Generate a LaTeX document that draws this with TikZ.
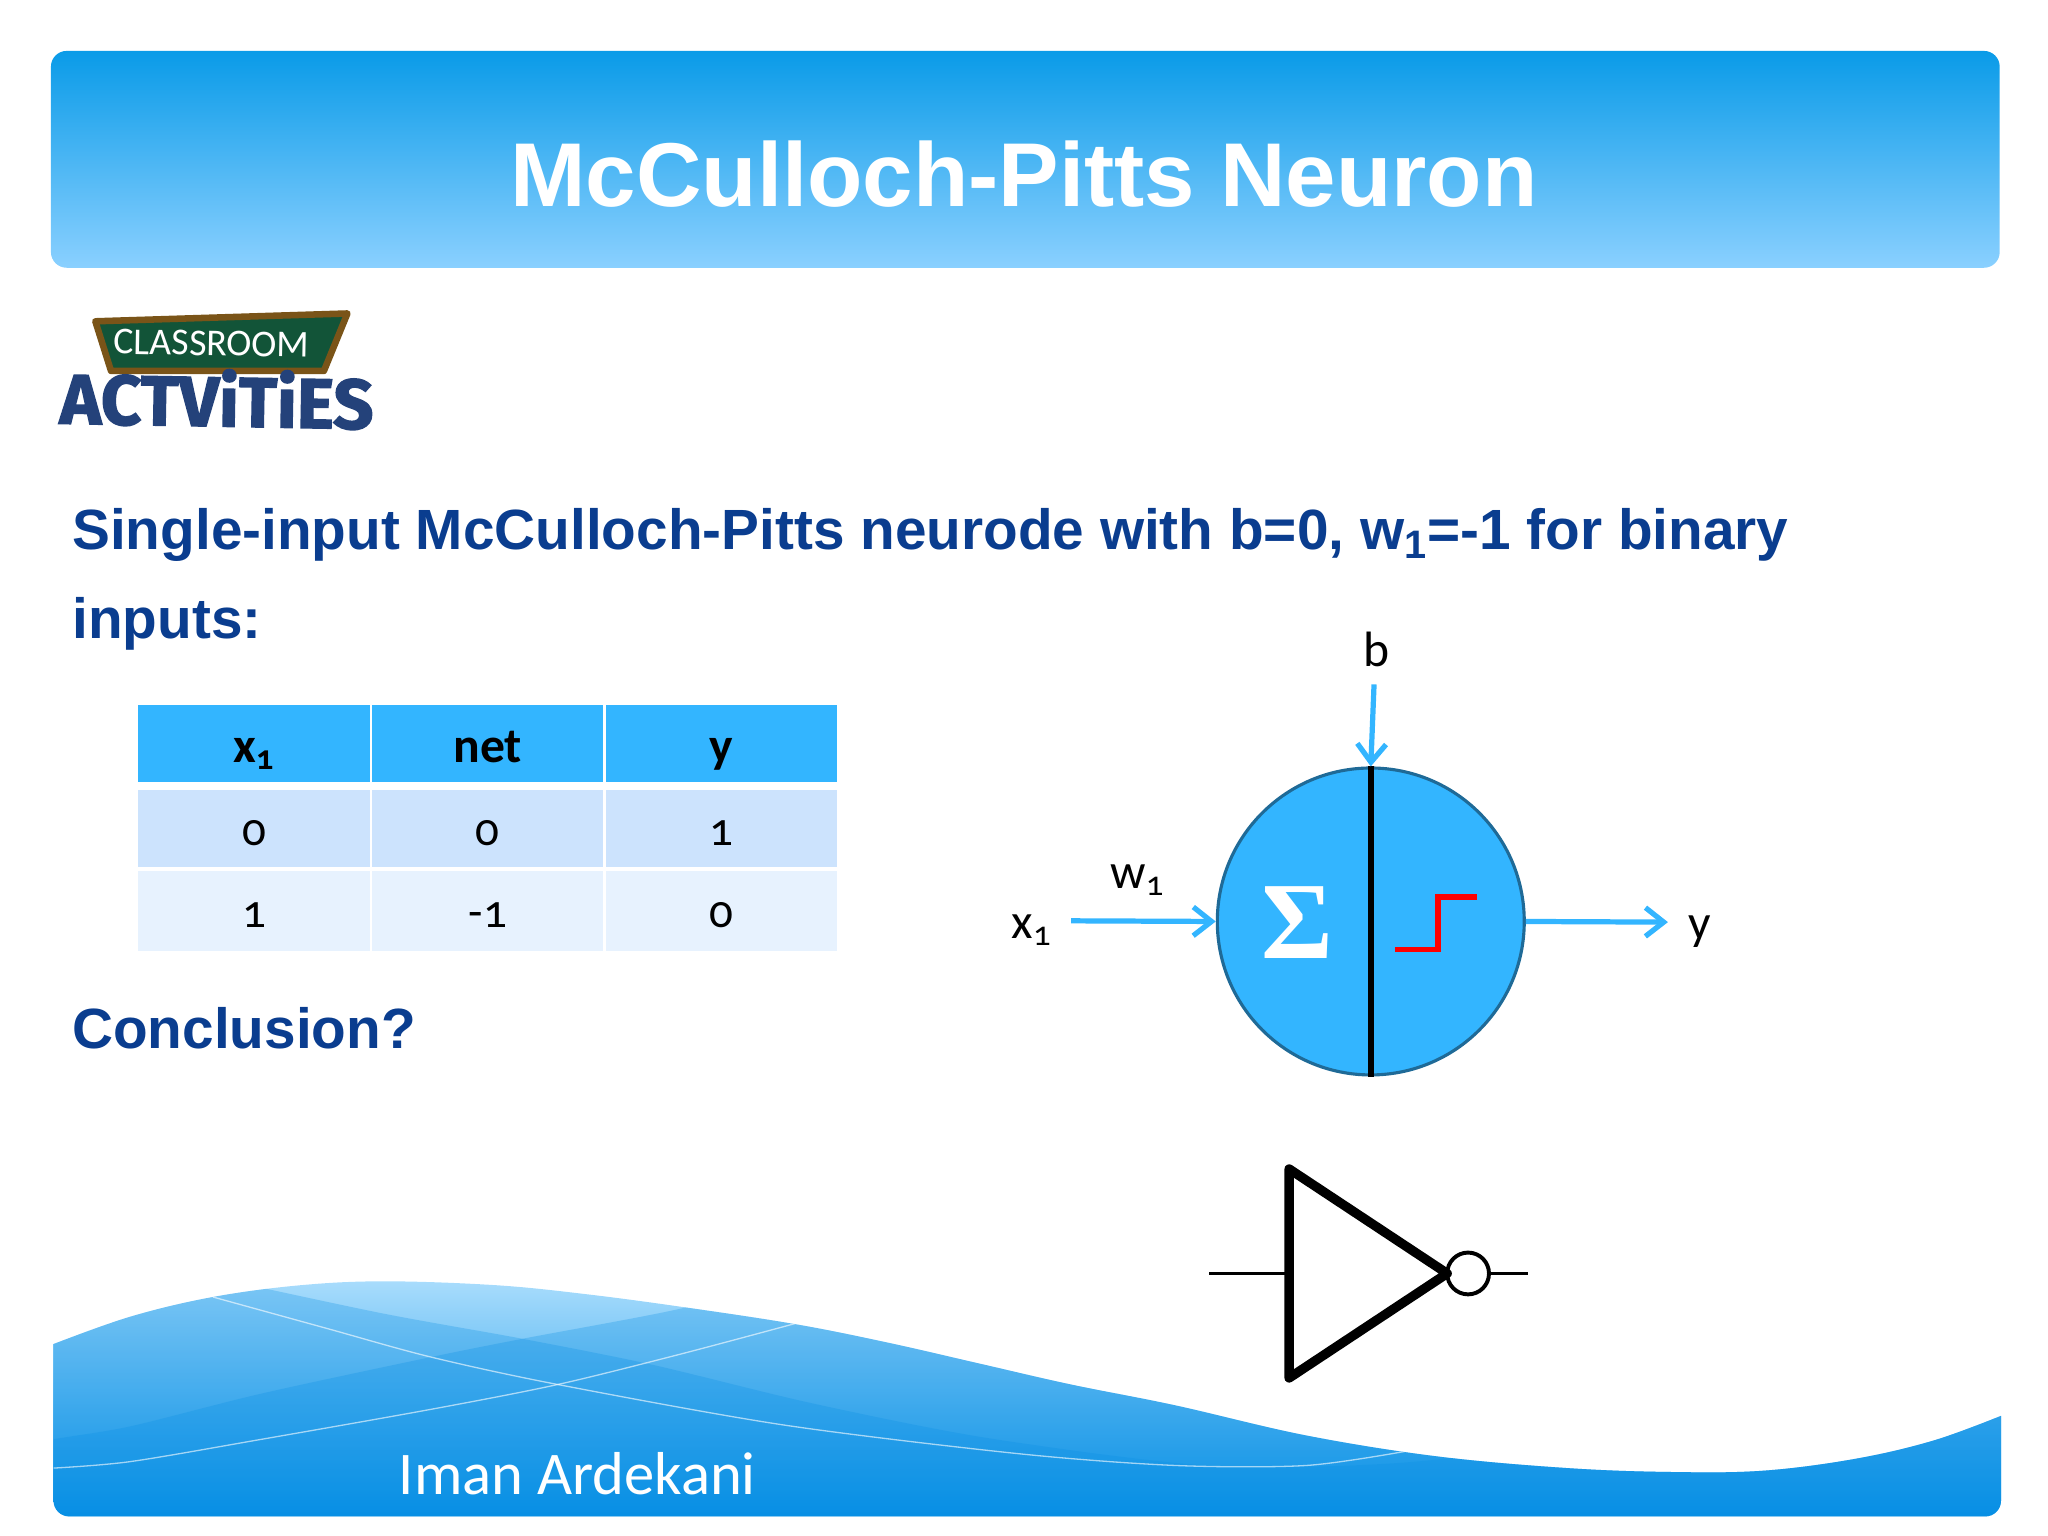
\documentclass[tikz,border=0pt]{standalone}
\usepackage{fontspec}
\setmainfont{Liberation Sans}
\newfontfamily\labelfont[Numbers=OldStyle]{Carlito}
\newfontfamily\sigmafont{Liberation Serif}
\newfontfamily\logofont[BoldFeatures={FakeBold=2}]{Fira Sans}
\usepackage{tikz}
\usetikzlibrary{arrows.meta,positioning}
\definecolor{titleblue}{HTML}{0A3D8F}
\definecolor{cellblue}{HTML}{33B5FF}
\definecolor{rowone}{HTML}{CCE3FD}
\definecolor{rowtwo}{HTML}{E7F2FE}
\definecolor{rimblue}{HTML}{1F6A97}
\definecolor{waveblue}{HTML}{0A8FE4}
\definecolor{bandtop}{HTML}{0A9BE8}
\definecolor{bandlow}{HTML}{8AD0FF}
\definecolor{wavetop}{HTML}{A8DCFC}
\definecolor{wavemid}{HTML}{8CCEF8}
\definecolor{wavelow}{HTML}{0590E6}
\definecolor{boardrim}{HTML}{7A5418}
\definecolor{boardfill}{HTML}{125438}
\definecolor{logoblue}{HTML}{24427A}
\newcommand{\wavepath}{plot[smooth,tension=.6] coordinates {(41,1029) (100,1008) (163,993) (230,984) (295,981) (380,984) (450,991) (525,1001) (610,1014) (680,1028) (750,1044) (820,1060) (900,1076) (1000,1099) (1100,1115) (1200,1124) (1280,1127) (1350,1126) (1420,1117) (1480,1103) (1532,1084)} -- (1532,1149) to[out=-90,in=0] (1520,1161) -- (53,1161) to[out=180,in=-90] (41,1149) -- cycle}

\begin{document}
\begin{tikzpicture}[x=0.5pt,y=-0.5pt]
    \tikzstyle{header}=[rectangle, rounded corners=6pt, minimum width=746pt, minimum height=83pt, top color=bandtop, bottom color=bandlow]
    \tikzstyle{head}=[rectangle, fill=cellblue, minimum width=88.5pt, minimum height=29.5pt, inner sep=0pt, outer sep=0pt, text height=18pt, text depth=3.5pt, font=\labelfont\bfseries\fontsize{19}{22}\selectfont]
    \tikzstyle{one}=[rectangle, fill=rowone, minimum width=88.5pt, minimum height=29.5pt, inner sep=0pt, outer sep=0pt, text height=16pt, text depth=3.5pt, font=\labelfont\fontsize{18}{22}\selectfont]
    \tikzstyle{two}=[rectangle, fill=rowtwo, minimum width=88.5pt, minimum height=30.5pt, inner sep=0pt, outer sep=0pt, text height=16pt, text depth=3.5pt, font=\labelfont\fontsize{18}{22}\selectfont]
    \tikzstyle{body}=[anchor=base west, inner sep=0pt, text=titleblue, font=\bfseries\fontsize{21.72}{34}\selectfont]
    \tikzstyle{tag}=[inner sep=0pt, font=\labelfont\fontsize{19}{23}\selectfont]
    \tikzstyle{connect}=[-{Straight Barb[length=7pt,width=11pt]}, line width=2pt, cellblue]
    \tikzstyle{wire}=[line width=1.1pt, black]

    \useasboundingbox (0,0) rectangle (1568,1176);

    \node[header] (band) at (785,122) {};
    \node[text=white, inner sep=0pt, font=\bfseries\fontsize{34.7}{40}\selectfont] (title) at (784,133) {McCulloch-Pitts Neuron};

    % logo
    \draw[line width=2.5pt, draw=boardrim, fill=boardfill, line join=round]
      (73,246) -- (266,240) -- (248,284) -- (85,284) -- cycle;
    \node[text=white, inner sep=0pt, rotate=-1, font=\labelfont\fontsize{14.5}{16}\selectfont] (board) at (162,263) {CLASSROOM};
    \node[text=logoblue, inner sep=0pt, rotate=-1, font=\logofont\bfseries\fontsize{27}{30}\selectfont] (logo) at (166,305) {ACTViTiES};

    \node[body, anchor=north west] (intro) at (55,389) [align=left] {Single-input McCulloch-Pitts neurode with b=0, w\textsubscript{1}=-1 for binary\\inputs:};
    \node[body] (conclusion) at (55,803) {Conclusion?};

    % table
    \node[head] (hx) at (194.5,569.5) {x\textsubscript{1}};
    \node[head] (hnet) [right=1pt of hx] {net};
    \node[head] (hy) [right=1pt of hnet] {y};
    \node[one] (a1) [below=3pt of hx] {0};
    \node[one] (a2) [right=1pt of a1] {0};
    \node[one] (a3) [right=1pt of a2] {1};
    \node[two] (b1) [below=1.5pt of a1] {1};
    \node[two] (b2) [right=1pt of b1] {-1};
    \node[two] (b3) [right=1pt of b2] {0};

    % neuron
    \node[circle, draw=rimblue, line width=1.2pt, fill=cellblue, minimum size=117.5pt, inner sep=0pt] (neuron) at (1049.5,705.5) {};
    \draw[line width=2.2pt, black] (neuron.north) -- (neuron.south);
    \node[text=white, inner sep=0pt, font=\sigmafont\bfseries\fontsize{42}{46}\selectfont] (sum) at (993,706) {Σ};
    \draw[line width=2.2pt, red] (1068,727) -- (1101,727) -- (1101,687) -- (1131,687);

    \node[tag] (xone) at (790,712) {x\textsubscript{1}};
    \node[tag] (wone) at (871,674) {w\textsubscript{1}};
    \node[tag] (bias) at (1054,497) {b};
    \node[tag] (out) at (1301,713) {y};
    \coordinate (xend) at (820,705);
    \coordinate (bend) at (1052,524);
    \coordinate (yend) at (1277,706);
    \path
      (xend) edge [connect] (neuron.west)
      (bend) edge [connect] (neuron.north)
      (neuron.east) edge [connect] (yend);

    % inverter
    \draw[line width=3.6pt, black, line join=round] (987,895) -- (987,1055) -- (1108,975) -- cycle;
    \node[circle, draw=black, line width=1.5pt, minimum size=16pt, inner sep=0pt] (bubble) at (1124,975) {};
    \coordinate (notin) at (926,975);
    \coordinate (notmid) at (987,975);
    \coordinate (notout) at (1170,975);
    \path
      (notin) edge [wire] (notmid)
      (bubble) edge [wire] (notout);

    % footer wave
    \begin{scope}
      \clip \wavepath;
      \shade[top color=wavetop, middle color=wavemid, bottom color=wavelow] (0,981) rectangle (1568,1161);
      \fill[waveblue, opacity=.28] plot[smooth] coordinates {(150,975) (290,1005) (400,1025) (500,1045) (620,1074) (750,1100) (900,1120) (1000,1123) (1120,1115) (1300,1080) (1568,1000)} -- (1568,1176) -- (0,1176) -- (0,975) -- cycle;
      \fill[waveblue, opacity=.28] plot[smooth] coordinates {(0,1112) (41,1102) (100,1092) (200,1067) (330,1039) (400,1025) (525,1001) (560,985)} -- (1568,985) -- (1568,1176) -- (0,1176) -- cycle;
      \draw[white, opacity=.6, line width=.5pt] plot[smooth] coordinates {(163,993) (250,1017) (330,1039) (427,1060) (600,1091) (780,1113) (900,1122) (1000,1122) (1077,1111)};
      \draw[white, opacity=.6, line width=.5pt] plot[smooth] coordinates {(41,1124) (100,1119) (200,1102) (330,1079) (427,1060) (520,1037) (610,1013)};
    \end{scope}
    \node[text=white, inner sep=0pt, font=\labelfont\fontsize{23.2}{26}\selectfont] (author) at (442,1128) {Iman Ardekani};
\end{tikzpicture}
\end{document}
